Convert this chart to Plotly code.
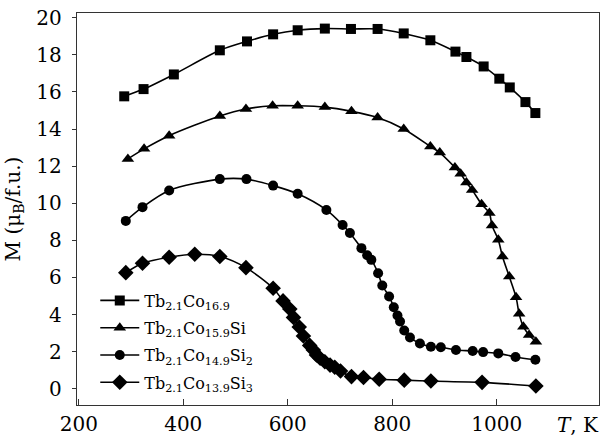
import plotly.graph_objects as go

# Tb2.1Co16.9 (squares)
t_sq = [287, 324, 382, 470, 522, 572, 619, 671, 721, 772, 822, 873, 921, 942, 975, 1005, 1025, 1055, 1074]
m_sq = [15.76, 16.15, 16.94, 18.24, 18.72, 19.10, 19.32, 19.41, 19.39, 19.39, 19.15, 18.78, 18.17, 17.88, 17.37, 16.71, 16.24, 15.45, 14.86]

# Tb2.1Co15.9Si (triangles)
t_tr = [294, 325, 373, 470, 520, 571, 619, 671, 722, 772, 822, 873, 891, 920, 931, 942, 953, 971, 986, 991, 1003, 1011, 1024, 1037, 1043, 1051, 1062, 1075]
m_tr = [12.39, 12.93, 13.64, 14.70, 15.08, 15.25, 15.25, 15.18, 14.95, 14.62, 14.00, 13.06, 12.73, 11.93, 11.59, 11.12, 10.72, 9.95, 9.47, 8.80, 8.03, 7.13, 6.05, 4.94, 4.04, 3.35, 2.90, 2.54]

# Tb2.1Co14.9Si2 (circles)
t_ci = [290, 322, 373, 470, 521, 572, 619, 674, 705, 719, 741, 752, 760, 773, 781, 794, 803, 810, 815, 823, 834, 853, 874, 893, 922, 954, 974, 1003, 1036, 1074]
m_ci = [9.05, 9.79, 10.69, 11.30, 11.30, 10.95, 10.51, 9.64, 8.83, 8.40, 7.58, 7.20, 6.95, 6.23, 5.57, 4.98, 4.40, 3.95, 3.63, 3.14, 2.77, 2.44, 2.27, 2.24, 2.09, 2.04, 1.98, 1.91, 1.72, 1.57]

# Tb2.1Co13.9Si3 (diamonds)
t_di = [290, 322, 373, 422, 470, 520, 572, 591, 604, 611, 622, 630, 642, 649, 655, 662, 671, 681, 690, 701, 722, 745, 775, 823, 874, 972, 1075]
m_di = [6.26, 6.77, 7.09, 7.25, 7.13, 6.53, 5.42, 4.74, 4.30, 3.85, 3.33, 2.85, 2.34, 2.09, 1.83, 1.65, 1.46, 1.28, 1.16, 0.96, 0.66, 0.61, 0.52, 0.47, 0.42, 0.35, 0.15]

names = [
    "Tb<sub>2.1</sub>Co<sub>16.9</sub>",
    "Tb<sub>2.1</sub>Co<sub>15.9</sub>Si",
    "Tb<sub>2.1</sub>Co<sub>14.9</sub>Si<sub>2</sub>",
    "Tb<sub>2.1</sub>Co<sub>13.9</sub>Si<sub>3</sub>",
]
x_ticks = [200, 400, 600, 800, 1000]
y_ticks = [0, 2, 4, 6, 8, 10, 12, 14, 16, 18, 20]

series = [
    (t_sq, m_sq, "square", 10),
    (t_tr, m_tr, "triangle-up", 11),
    (t_ci, m_ci, "circle", 10),
    (t_di, m_di, "diamond", 12),
]

FONT = "DejaVu Serif"
fig = go.Figure()
for i, (xs, ys, sym, sz) in enumerate(series):
    fig.add_trace(go.Scatter(
        x=xs, y=ys, mode="lines+markers", name=names[i],
        legendgroup=f"g{i}",
        line=dict(color="black", width=1.6, shape="spline", smoothing=0.8),
        marker=dict(symbol=sym, size=sz, color="black"),
    ))

axis_common = dict(showline=True, linecolor="#333", linewidth=1.4, mirror=True,
                   showgrid=False, zeroline=False, tickcolor="#333", automargin=False,
                   tickfont=dict(family=FONT, size=20, color="black"))

fig.update_xaxes(range=[196.6, 1195.8], tickvals=x_ticks, ticks="inside", ticklen=6,
                 ticklabelstandoff=1, **axis_common)
fig.update_yaxes(range=[-0.87, 20.25], tickvals=y_ticks, ticks="outside", ticklen=4,
                 ticklabelstandoff=6,
                 title=dict(text="M (μ<sub>B</sub>/f.u.)", font=dict(family=FONT, size=20, color="black"),
                            standoff=10),
                 **axis_common)

fig.add_annotation(text="<i>T</i>, K", xref="paper", yref="paper", x=0.96, y=-0.05,
                   xanchor="center", yanchor="middle", showarrow=False,
                   font=dict(family=FONT, size=20, color="black"))

fig.update_layout(
    width=602, height=437,
    margin=dict(l=77, r=3, t=13, b=32),
    paper_bgcolor="white", plot_bgcolor="white",
    showlegend=True,
    legend=dict(x=0.035, y=0.31, xanchor="left", yanchor="top",
                bgcolor="rgba(0,0,0,0)", font=dict(family=FONT, size=16, color="black"),
                tracegroupgap=3.5, itemwidth=39),
)

fig.write_html("out.html")
